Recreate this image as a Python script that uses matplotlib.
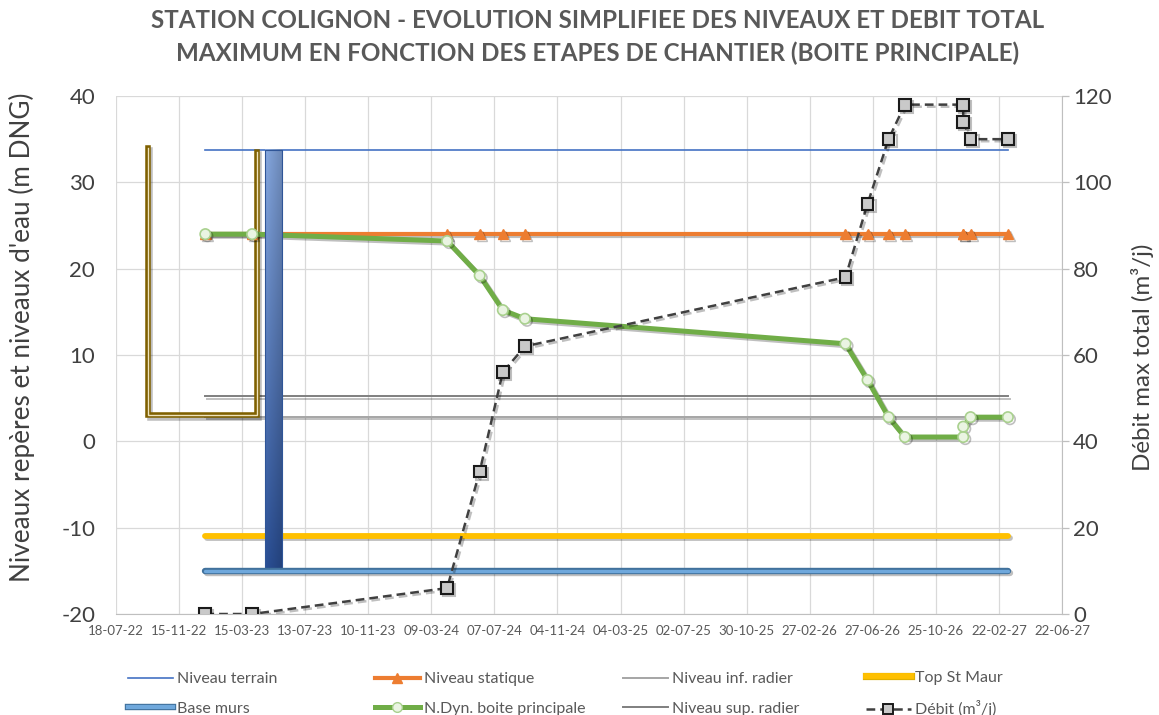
import matplotlib
matplotlib.use("Agg")
import matplotlib.pyplot as plt
import matplotlib.dates as mdates
import matplotlib.patheffects as pe
from matplotlib.lines import Line2D
import numpy as np
import pandas as pd

plt.rcParams["font.family"] = ["Lato", "DejaVu Sans"]

# ---------------- data ----------------
etapes = ["2023-01-04", "2023-04-03", "2024-04-08", "2024-06-09", "2024-07-23",
          "2024-09-03", "2026-05-06", "2026-06-17", "2026-07-27", "2026-08-27",
          "2026-12-16", "2026-12-16", "2026-12-30", "2027-03-11"]
niveau_statique = [24.0, 24.0, 24.0, 24.0, 24.0, 24.0, 24.0,
                   24.0, 24.0, 24.0, 24.0, 24.0, 24.0, 24.0]
niveau_dyn = [24.0, 24.0, 23.2, 19.2, 15.2, 14.2, 11.3,
              7.1, 2.8, 0.5, 0.5, 1.7, 2.8, 2.8]
debit = [0, 0, 6, 33, 56, 62, 78, 95, 110, 118, 118, 114, 110, 110]

niveau_terrain = 33.8
niveau_sup_radier = 5.2
niveau_inf_radier = 2.8
top_st_maur = -11.0
base_murs = -15.0

# paroi (wall) between terrain and base murs
paroi_dates = ["2023-04-28", "2023-05-29"]
# outline of the excavation
fouille_dates = ["2022-09-17", "2022-09-17", "2023-04-13", "2023-04-13"]
fouille_niveaux = [34.0, 3.0, 3.0, 33.5]

x_tick_labels = ["18-07-22", "15-11-22", "15-03-23", "13-07-23", "10-11-23",
                 "09-03-24", "07-07-24", "04-11-24", "04-03-25", "02-07-25",
                 "30-10-25", "27-02-26", "27-06-26", "25-10-26", "22-02-27",
                 "22-06-27"]
y_left_ticks = [-20, -10, 0, 10, 20, 30, 40]
y_right_ticks = [0, 20, 40, 60, 80, 100, 120]

# ---------------- figure ----------------
W, H = 1159, 715
fig = plt.figure(figsize=(W / 100, H / 100), dpi=100)
ax = fig.add_axes([116 / W, 1 - 614 / H, (1062 - 116) / W, (614 - 96) / H])
ax2 = ax.twinx()

TXT = "#595959"
GRID = "#D9D9D9"

x = mdates.date2num(pd.to_datetime(etapes))
x_span = [x[0], x[-1]]
xt = mdates.date2num(pd.to_datetime(x_tick_labels, format="%d-%m-%y"))

shadow = [pe.SimpleLineShadow(offset=(1.5, -1.5), alpha=0.25, shadow_color="k"), pe.Normal()]

# horizontal reference levels
ax.plot(x_span, [niveau_terrain] * 2, color="#4472C4", lw=1.2, zorder=3)
ax.plot(x_span, [niveau_sup_radier] * 2, color="#7F7F7F", lw=1.4, zorder=3,
        path_effects=shadow)
ax.plot(x_span, [niveau_inf_radier] * 2, color="#A5A5A5", lw=1.4, zorder=3,
        path_effects=shadow)
ax.plot(x_span, [top_st_maur] * 2, color="#FFC000", lw=4.2, zorder=3,
        solid_capstyle="round", path_effects=shadow)

# excavation outline (double brown line)
xf = mdates.date2num(pd.to_datetime(fouille_dates))
ax.plot(xf, fouille_niveaux, color="#7F6000", lw=4.0, zorder=4,
        solid_joinstyle="miter", path_effects=shadow)
ax.plot(xf, fouille_niveaux, color="#EFE3BC", lw=1.0, zorder=4.1,
        solid_joinstyle="miter")

# static level and dynamic level
ax.plot(x, niveau_statique, color="#ED7D31", lw=3.0, marker="^", ms=7.5,
        mfc="#ED7D31", mec="#ED7D31", zorder=5, path_effects=shadow)
ax.plot(x, niveau_dyn, color="#70AD47", lw=3.6, marker="o", ms=7.5,
        mfc="#EAF4E2", mec="#A9D18E", mew=1.2, zorder=6, path_effects=shadow)

# wall bar with vertical gradient
xp = mdates.date2num(pd.to_datetime(paroi_dates))
grad_v = np.linspace(0, 1, 200)[:, None]
grad_h = np.linspace(0, 1, 20)[None, :]
top_c = np.array([0x86, 0xA8, 0xE0]) / 255
bot_c = np.array([0x2A, 0x4F, 0x96]) / 255
img = top_c[None, None, :] * (1 - grad_v[..., None]) + bot_c[None, None, :] * grad_v[..., None]
img = img * (1 - 0.18 * grad_h[..., None])
img = np.clip(img, 0, 1)
ax.imshow(img, extent=[xp[0], xp[1], base_murs, niveau_terrain], aspect="auto",
          origin="upper", zorder=7, interpolation="bilinear")
ax.plot([xp[0], xp[1], xp[1], xp[0], xp[0]],
        [base_murs, base_murs, niveau_terrain, niveau_terrain, base_murs],
        color="#2F5597", lw=0.8, zorder=7.1)

# base of walls
ax.plot(x_span, [base_murs] * 2, color="#41719C", lw=4.6, zorder=8,
        solid_capstyle="round", path_effects=shadow)
ax.plot(x_span, [base_murs] * 2, color="#6FA8DC", lw=2.4, zorder=8.1,
        solid_capstyle="round")

# flow on the right axis
ax2.plot(x, debit, color="#404040", lw=1.8, ls=(0, (3.5, 2)), marker="s", ms=8.5,
         mfc="#C9C9C9", mec="#1A1A1A", mew=1.5, zorder=10, path_effects=shadow)

# ---------------- axes ----------------
ax.set_xlim(xt[0], xt[-1])
ax.set_ylim(-20, 40)
ax2.set_ylim(0, 120)

ax.set_xticks(xt)
ax.set_xticklabels(x_tick_labels)
ax.set_yticks(y_left_ticks)
ax.set_yticklabels([str(v) for v in y_left_ticks])
ax2.set_yticks(y_right_ticks)
ax2.set_yticklabels([str(v) for v in y_right_ticks])

ax.grid(True, color=GRID, lw=0.9, zorder=0)
ax.set_axisbelow(True)
ax.tick_params(axis="x", length=0, pad=8, labelsize=9.5, labelcolor=TXT)
ax.tick_params(axis="y", length=0, pad=15, labelsize=16, labelcolor="#404040")
ax2.tick_params(axis="y", length=5, pad=3, labelsize=16, labelcolor="#404040",
                color="#BFBFBF", width=0.9)

for s in ["top", "left", "right"]:
    ax.spines[s].set_visible(False)
ax.spines["bottom"].set_color("#BFBFBF")
for s in ["top", "left", "bottom"]:
    ax2.spines[s].set_visible(False)
ax2.spines["right"].set_color("#BFBFBF")

# ---------------- texts ----------------
fig.text(598 / W, 1 - 21 / H,
         "STATION COLIGNON - EVOLUTION SIMPLIFIEE DES NIVEAUX ET DEBIT TOTAL",
         ha="center", va="center", fontsize=17.4, fontweight="bold", color=TXT)
fig.text(598 / W, 1 - 53 / H,
         "MAXIMUM EN FONCTION DES ETAPES DE CHANTIER (BOITE PRINCIPALE)",
         ha="center", va="center", fontsize=17.4, fontweight="bold", color=TXT)
fig.text(22 / W, 1 - 337 / H, "Niveaux repères et niveaux d'eau (m DNG)",
         rotation=90, ha="center", va="center", fontsize=18.8, color="#404040")
fig.text(1142 / W, 1 - 357 / H, "Débit max total (m³/j)",
         rotation=90, ha="center", va="center", fontsize=17.4, color="#404040")

# ---------------- legend ----------------
h_terrain = Line2D([], [], color="#4472C4", lw=1.2)
h_statique = Line2D([], [], color="#ED7D31", lw=3.0, marker="^", ms=7, mfc="#ED7D31")
h_inf = Line2D([], [], color="#A5A5A5", lw=1.4)
h_top = Line2D([], [], color="#FFC000", lw=4.2,
               path_effects=[pe.Stroke(linewidth=5.2, foreground="#E0B000"), pe.Normal()])
h_base = Line2D([], [], color="#6FA8DC", lw=3.0,
                path_effects=[pe.Stroke(linewidth=4.6, foreground="#41719C"), pe.Normal()])
h_dyn = Line2D([], [], color="#70AD47", lw=3.6, marker="o", ms=7,
               mfc="#EAF4E2", mec="#A9D18E")
h_sup = Line2D([], [], color="#7F7F7F", lw=1.4)
h_debit = Line2D([], [], color="#404040", lw=1.8, ls=(0, (3.5, 2)), marker="s", ms=7.5,
                 mfc="#C9C9C9", mec="#1A1A1A", mew=1.4)

columns = [
    (128, [h_terrain, h_base], ["Niveau terrain", "Base murs"]),
    (375, [h_statique, h_dyn], ["Niveau statique", "N.Dyn. boite principale"]),
    (623, [h_inf, h_sup], ["Niveau inf. radier", "Niveau sup. radier"]),
    (866, [h_top, h_debit], ["Top St Maur", "Débit (m³/j)"]),
]
for xpix, hs, ls in columns:
    leg = fig.legend(hs, ls, loc="center left", bbox_to_anchor=(xpix / W, 1 - 694 / H),
                     frameon=False, fontsize=11.5, handlelength=2.8, handletextpad=0.25,
                     labelspacing=0.95, borderpad=0, borderaxespad=0, numpoints=1)
    for t in leg.get_texts():
        t.set_color(TXT)

fig.savefig("out.png", dpi=100, facecolor="white")
